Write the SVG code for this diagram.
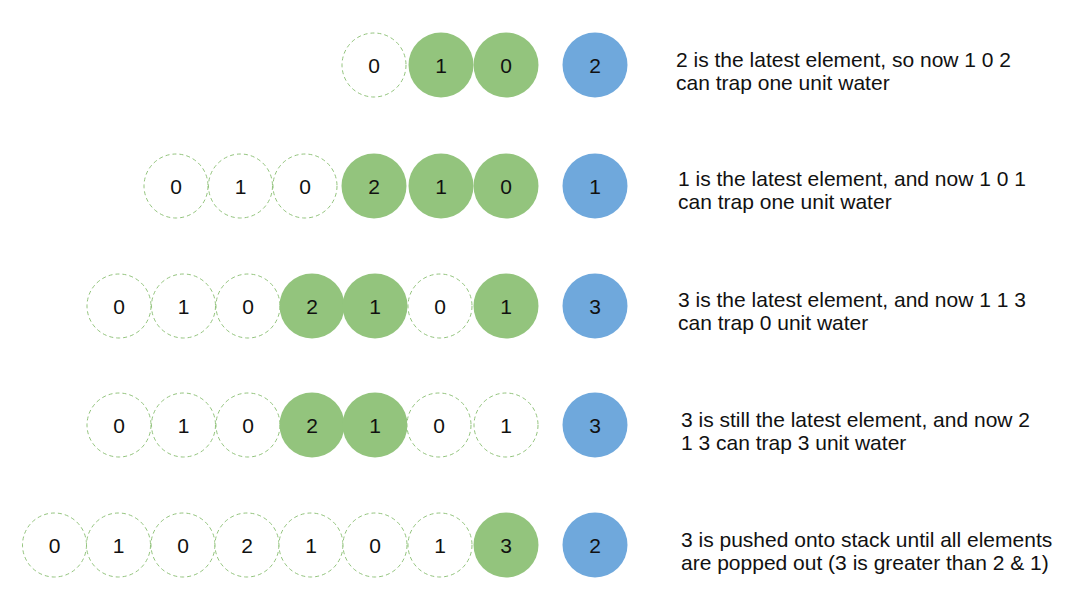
<svg xmlns="http://www.w3.org/2000/svg" width="1077" height="601" viewBox="0 0 1077 601">
<style>
.e{fill:#fff;stroke:#93c47d;stroke-width:1;stroke-dasharray:4 3}
.g{fill:#93c47d;stroke:none}
.b{fill:#6fa8dc;stroke:none}
.n{font-family:"Liberation Sans",Arial,sans-serif;font-size:21px;fill:#111;text-anchor:middle;dominant-baseline:central}
.t{font-family:"Liberation Sans",Arial,sans-serif;font-size:21px;fill:#111}
</style>
<g id="row1">
<g id="r1c1"><circle class="e" cx="374" cy="65" r="32"/><text class="n" x="374" y="65">0</text></g>
<g id="r1c2"><circle class="g" cx="441" cy="65" r="32.5"/><text class="n" x="441" y="65">1</text></g>
<g id="r1c3"><circle class="g" cx="506" cy="65" r="32.5"/><text class="n" x="506" y="65">0</text></g>
<g id="r1b"><circle class="b" cx="595" cy="65" r="32.5"/><text class="n" x="595" y="65">2</text></g>
<g id="r1t"><text class="t" x="676" y="67">2 is the latest element, so now 1 0 2</text><text class="t" x="676" y="90">can trap one unit water</text></g>
</g>
<g id="row2">
<g id="r2c1"><circle class="e" cx="176" cy="186" r="32"/><text class="n" x="176" y="186">0</text></g>
<g id="r2c2"><circle class="e" cx="240.5" cy="186" r="32"/><text class="n" x="240.5" y="186">1</text></g>
<g id="r2c3"><circle class="e" cx="305" cy="186" r="32"/><text class="n" x="305" y="186">0</text></g>
<g id="r2c4"><circle class="g" cx="374" cy="186" r="32.5"/><text class="n" x="374" y="186">2</text></g>
<g id="r2c5"><circle class="g" cx="441" cy="186" r="32.5"/><text class="n" x="441" y="186">1</text></g>
<g id="r2c6"><circle class="g" cx="506" cy="186" r="32.5"/><text class="n" x="506" y="186">0</text></g>
<g id="r2b"><circle class="b" cx="595" cy="186" r="32.5"/><text class="n" x="595" y="186">1</text></g>
<g id="r2t"><text class="t" x="678" y="186">1 is the latest element, and now 1 0 1</text><text class="t" x="678" y="209">can trap one unit water</text></g>
</g>
<g id="row3">
<g id="r3c1"><circle class="e" cx="119" cy="306" r="32"/><text class="n" x="119" y="306">0</text></g>
<g id="r3c2"><circle class="e" cx="183.5" cy="306" r="32"/><text class="n" x="183.5" y="306">1</text></g>
<g id="r3c3"><circle class="e" cx="248" cy="306" r="32"/><text class="n" x="248" y="306">0</text></g>
<g id="r3c4"><circle class="g" cx="312" cy="306" r="32.5"/><text class="n" x="312" y="306">2</text></g>
<g id="r3c5"><circle class="g" cx="375" cy="306" r="32.5"/><text class="n" x="375" y="306">1</text></g>
<g id="r3c6"><circle class="e" cx="440" cy="306" r="32"/><text class="n" x="440" y="306">0</text></g>
<g id="r3c7"><circle class="g" cx="506" cy="306" r="32.5"/><text class="n" x="506" y="306">1</text></g>
<g id="r3b"><circle class="b" cx="595" cy="306" r="32.5"/><text class="n" x="595" y="306">3</text></g>
<g id="r3t"><text class="t" x="678" y="307">3 is the latest element, and now 1 1 3</text><text class="t" x="678" y="330">can trap 0 unit water</text></g>
</g>
<g id="row4">
<g id="r4c1"><circle class="e" cx="119" cy="425" r="32"/><text class="n" x="119" y="425">0</text></g>
<g id="r4c2"><circle class="e" cx="183.5" cy="425" r="32"/><text class="n" x="183.5" y="425">1</text></g>
<g id="r4c3"><circle class="e" cx="248" cy="425" r="32"/><text class="n" x="248" y="425">0</text></g>
<g id="r4c4"><circle class="g" cx="312" cy="425" r="32.5"/><text class="n" x="312" y="425">2</text></g>
<g id="r4c5"><circle class="g" cx="375" cy="425" r="32.5"/><text class="n" x="375" y="425">1</text></g>
<g id="r4c6"><circle class="e" cx="439" cy="425" r="32"/><text class="n" x="439" y="425">0</text></g>
<g id="r4c7"><circle class="e" cx="506" cy="425" r="32"/><text class="n" x="506" y="425">1</text></g>
<g id="r4b"><circle class="b" cx="595" cy="425" r="32.5"/><text class="n" x="595" y="425">3</text></g>
<g id="r4t"><text class="t" x="681" y="427">3 is still the latest element, and now 2</text><text class="t" x="681" y="450">1 3 can trap 3 unit water</text></g>
</g>
<g id="row5">
<g id="r5c1"><circle class="e" cx="54.5" cy="545" r="32"/><text class="n" x="54.5" y="545">0</text></g>
<g id="r5c2"><circle class="e" cx="118.5" cy="545" r="32"/><text class="n" x="118.5" y="545">1</text></g>
<g id="r5c3"><circle class="e" cx="183" cy="545" r="32"/><text class="n" x="183" y="545">0</text></g>
<g id="r5c4"><circle class="e" cx="247" cy="545" r="32"/><text class="n" x="247" y="545">2</text></g>
<g id="r5c5"><circle class="e" cx="311" cy="545" r="32"/><text class="n" x="311" y="545">1</text></g>
<g id="r5c6"><circle class="e" cx="375" cy="545" r="32"/><text class="n" x="375" y="545">0</text></g>
<g id="r5c7"><circle class="e" cx="440" cy="545" r="32"/><text class="n" x="440" y="545">1</text></g>
<g id="r5c8"><circle class="g" cx="506" cy="545" r="32.5"/><text class="n" x="506" y="545">3</text></g>
<g id="r5b"><circle class="b" cx="595" cy="545" r="32.5"/><text class="n" x="595" y="545">2</text></g>
<g id="r5t"><text class="t" x="681" y="547">3 is pushed onto stack until all elements</text><text class="t" x="681" y="570">are popped out (3 is greater than 2 &amp; 1)</text></g>
</g>
<g id="connectors"/>
</svg>
